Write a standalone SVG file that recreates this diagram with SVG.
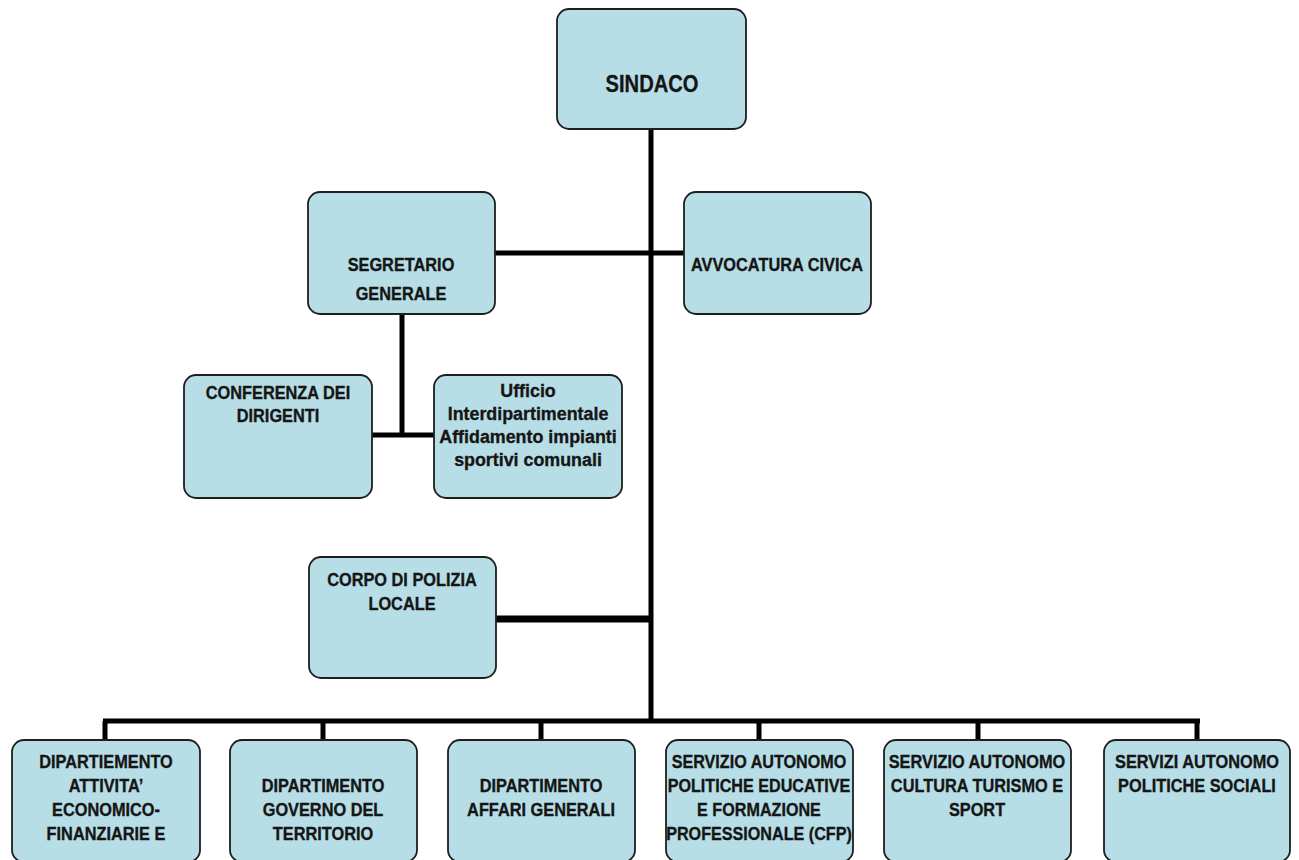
<svg xmlns="http://www.w3.org/2000/svg" width="1299" height="860" viewBox="0 0 1299 860">
<style>
.box{fill:#b7dee6;stroke:#1e1e1e;stroke-width:1.8}
.t{font-family:"Liberation Sans",Arial,sans-serif;font-weight:bold;font-size:19px;fill:#151515;stroke:#151515;stroke-width:0.35;text-anchor:middle;dominant-baseline:central}
.big{font-size:24px}
.c{stroke:#000;stroke-width:5;fill:none}
</style>
<rect width="1299" height="860" fill="#fff"/>
<g id="connectors">
<line class="c" x1="651" y1="129" x2="651" y2="723"/>
<line class="c" x1="495" y1="253" x2="684" y2="253"/>
<line class="c" x1="402" y1="314" x2="402" y2="435"/>
<line class="c" x1="372" y1="435" x2="434" y2="435"/>
<line class="c" x1="496" y1="619" x2="651" y2="619" style="stroke-width:7"/>
<line class="c" x1="103" y1="721" x2="1200" y2="721"/>
<line class="c" x1="105" y1="721" x2="105" y2="740"/>
<line class="c" x1="323" y1="721" x2="323" y2="740"/>
<line class="c" x1="541" y1="721" x2="541" y2="740"/>
<line class="c" x1="759" y1="721" x2="759" y2="740"/>
<line class="c" x1="978" y1="721" x2="978" y2="740"/>
<line class="c" x1="1197" y1="721" x2="1197" y2="740"/>
</g>
<g id="sindaco"><rect class="box" x="557" y="9" width="189" height="120" rx="12"/><g transform="translate(652 0) scale(0.84 1)"><text class="t big" x="0" y="84">SINDACO</text></g></g>
<g id="segretario"><rect class="box" x="308" y="192" width="187" height="122" rx="12"/><g transform="translate(401 0) scale(0.86 1)"><text class="t" x="0" y="265">SEGRETARIO</text><text class="t" x="0" y="294">GENERALE</text></g></g>
<g id="avvocatura"><rect class="box" x="684" y="192" width="187" height="122" rx="12"/><g transform="translate(777 0) scale(0.86 1)"><text class="t" x="0" y="265">AVVOCATURA CIVICA</text></g></g>
<g id="conferenza"><rect class="box" x="184" y="375" width="188" height="123" rx="12"/><g transform="translate(278 0) scale(0.86 1)"><text class="t" x="0" y="393">CONFERENZA DEI</text><text class="t" x="0" y="416">DIRIGENTI</text></g></g>
<g id="ufficio"><rect class="box" x="434" y="375" width="188" height="123" rx="12"/><g transform="translate(528 0) scale(0.94 1)"><text class="t" x="0" y="390">Ufficio</text><text class="t" x="0" y="413">Interdipartimentale</text><text class="t" x="0" y="436">Affidamento impianti</text><text class="t" x="0" y="459">sportivi comunali</text></g></g>
<g id="polizia"><rect class="box" x="309" y="557" width="187" height="121" rx="12"/><g transform="translate(402 0) scale(0.86 1)"><text class="t" x="0" y="580">CORPO DI POLIZIA</text><text class="t" x="0" y="604">LOCALE</text></g></g>
<g id="dip1"><rect class="box" x="12" y="740" width="188" height="122" rx="12"/><g transform="translate(106 0) scale(0.86 1)"><text class="t" x="0" y="762">DIPARTIEMENTO</text><text class="t" x="0" y="786">ATTIVITA’</text><text class="t" x="0" y="810">ECONOMICO-</text><text class="t" x="0" y="834">FINANZIARIE E</text></g></g>
<g id="dip2"><rect class="box" x="230" y="740" width="187" height="122" rx="12"/><g transform="translate(323 0) scale(0.86 1)"><text class="t" x="0" y="786">DIPARTIMENTO</text><text class="t" x="0" y="810">GOVERNO DEL</text><text class="t" x="0" y="834">TERRITORIO</text></g></g>
<g id="dip3"><rect class="box" x="448" y="740" width="187" height="122" rx="12"/><g transform="translate(541 0) scale(0.86 1)"><text class="t" x="0" y="786">DIPARTIMENTO</text><text class="t" x="0" y="810">AFFARI GENERALI</text></g></g>
<g id="serv1"><rect class="box" x="666" y="740" width="187" height="122" rx="12"/><g transform="translate(759 0) scale(0.85 1)"><text class="t" x="0" y="762">SERVIZIO AUTONOMO</text><text class="t" x="0" y="786">POLITICHE EDUCATIVE</text><text class="t" x="0" y="810">E FORMAZIONE</text><text class="t" x="0" y="834">PROFESSIONALE (CFP)</text></g></g>
<g id="serv2"><rect class="box" x="884" y="740" width="187" height="122" rx="12"/><g transform="translate(977 0) scale(0.86 1)"><text class="t" x="0" y="762">SERVIZIO AUTONOMO</text><text class="t" x="0" y="786">CULTURA TURISMO E</text><text class="t" x="0" y="810">SPORT</text></g></g>
<g id="serv3"><rect class="box" x="1104" y="740" width="186" height="122" rx="12"/><g transform="translate(1197 0) scale(0.86 1)"><text class="t" x="0" y="762">SERVIZI AUTONOMO</text><text class="t" x="0" y="786">POLITICHE SOCIALI</text></g></g>
</svg>
